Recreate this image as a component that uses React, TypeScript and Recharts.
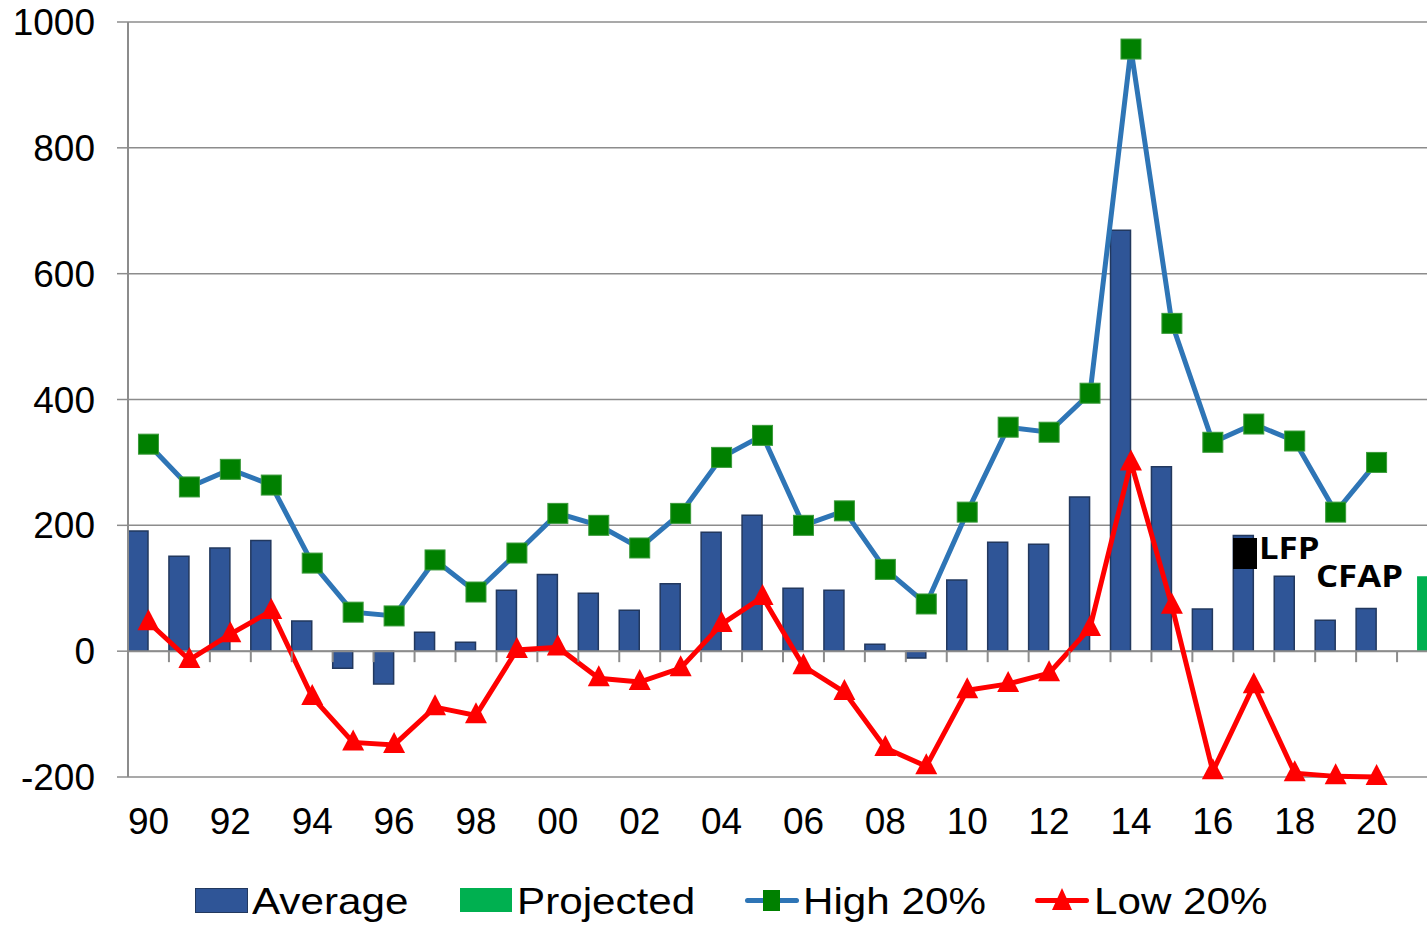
import React from "react";
import { ComposedChart, Bar, Line, XAxis, YAxis, CartesianGrid, ReferenceLine } from "recharts";

const years = [
  "90", "91", "92", "93", "94", "95", "96", "97", "98", "99",
  "00", "01", "02", "03", "04", "05", "06", "07", "08", "09",
  "10", "11", "12", "13", "14", "15", "16", "17", "18", "19", "20", "21",
];

const average = [
  191, 151, 164, 176, 48, -27, -52, 30, 14, 97,
  122, 92, 65, 107, 189, 216, 100, 97, 11, -11,
  113, 173, 170, 245, 669, 293, 67, 184, 119, 49, 68, null,
];

const projected = [
  null, null, null, null, null, null, null, null, null, null,
  null, null, null, null, null, null, null, null, null, null,
  null, null, null, null, null, null, null, null, null, null, null, 119,
];

const high20 = [
  329, 261, 289, 264, 140, 62, 56, 145, 94, 156,
  219, 200, 164, 219, 308, 343, 200, 223, 130, 75,
  221, 356, 348, 410, 957, 521, 332, 361, 334, 221, 300, null,
];

const low20 = [
  46, -14, 27, 64, -73, -145, -149, -89, -102, 2,
  6, -43, -49, -27, 43, 86, -24, -65, -154, -183,
  -62, -52, -35, 37, 300, 72, -191, -54, -194, -199, -200, null,
];

const yTicks = [-200, 0, 200, 400, 600, 800, 1000];

const data = years.map((year, i) => ({
  year,
  average: average[i],
  projected: projected[i],
  high: high20[i],
  low: low20[i],
}));

const W = 1438;
const H = 926;
const TOP = 22;
const PLOT_H = 755;
const Y_W = 128;
const BAND = (W - Y_W) / years.length;
const ZERO_OFF = (PLOT_H * 200) / 1200;
const FONT = "'Liberation Sans', Arial, sans-serif";
const GRAY = "#8c8c8c";

const XTick = (props: any) => {
  const { x, y, payload } = props;
  const v: string = payload.value;
  const show = v !== "21" && Number(v) % 2 === 0;
  return (
    <g>
      <line x1={x + BAND / 2} x2={x + BAND / 2} y1={y - ZERO_OFF} y2={y - ZERO_OFF + 11} stroke={GRAY} strokeWidth={2} />
      {show && (
        <text x={x} y={y + 57} textAnchor="middle" fontSize={37} fontFamily={FONT} fill="#000">
          {v}
        </text>
      )}
    </g>
  );
};

const SquareDot = (props: any) => {
  const { cx, cy, value } = props;
  if (value == null || cx == null) return null;
  return <rect x={cx - 10} y={cy - 10} width={20} height={20} fill="#008000" stroke="#3a9a3a" strokeWidth={1} />;
};

const TriDot = (props: any) => {
  const { cx, cy, value } = props;
  if (value == null || cx == null) return null;
  return <path d={`M${cx},${cy - 13} L${cx + 11},${cy + 8} L${cx - 11},${cy + 8} Z`} fill="#ff0000" />;
};

const legendText: React.CSSProperties = {
  position: "absolute",
  top: 883,
  fontSize: 37,
  fontFamily: FONT,
  lineHeight: "37px",
  transform: "scaleX(1.14)",
  transformOrigin: "left",
  whiteSpace: "nowrap",
};

export default function App() {
  return (
    <div style={{ position: "fixed", left: 0, top: 0, width: 1427, height: 926, overflow: "hidden", background: "#fff" }}>
      <ComposedChart
        width={W}
        height={H}
        data={data}
        margin={{ top: TOP, right: 0, left: 0, bottom: 0 }}
        barGap={0}
        barCategoryGap={0}
      >
        <CartesianGrid vertical={false} stroke={GRAY} strokeWidth={1.5} />
        <XAxis
          dataKey="year"
          interval={0}
          tickLine={false}
          axisLine={false}
          tickSize={0}
          tickMargin={0}
          height={H - TOP - PLOT_H}
          tick={<XTick />}
        />
        <YAxis
          width={Y_W}
          domain={[-200, 1000]}
          ticks={yTicks}
          interval={0}
          axisLine={{ stroke: GRAY, strokeWidth: 2 }}
          tickLine={{ stroke: GRAY, strokeWidth: 1.5 }}
          tickSize={11}
          tickMargin={22}
          tick={{ fontSize: 37, fontFamily: FONT, fill: "#000" }}
        />
        <ReferenceLine y={0} stroke={GRAY} strokeWidth={2} />
        <Bar dataKey="average" fill="#2F5597" stroke="#22385e" strokeWidth={1.5} isAnimationActive={false} />
        <Bar dataKey="projected" fill="#00B050" isAnimationActive={false} />
        <Line
          dataKey="high"
          stroke="#2E75B6"
          strokeWidth={5}
          dot={<SquareDot />}
          activeDot={false}
          isAnimationActive={false}
        />
        <Line
          dataKey="low"
          stroke="#ff0000"
          strokeWidth={5}
          dot={<TriDot />}
          activeDot={false}
          isAnimationActive={false}
        />
      </ComposedChart>

      {/* annotation */}
      <div style={{ position: "absolute", left: 1233, top: 538, width: 24, height: 31, background: "#000" }} />
      <div style={{ position: "absolute", left: 1259, top: 529, fontSize: 31, fontWeight: 700, fontFamily: "'Open Sans', sans-serif", transform: "scaleX(1.12)", transformOrigin: "left", lineHeight: "36px" }}>LFP</div>
      <div style={{ position: "absolute", left: 1316, top: 557, fontSize: 31, fontWeight: 700, fontFamily: "'Open Sans', sans-serif", transform: "scaleX(1.12)", transformOrigin: "left", lineHeight: "36px" }}>CFAP</div>

      {/* legend */}
      <div style={{ position: "absolute", left: 195, top: 888, width: 51, height: 23, background: "#2F5597", border: "1px solid #22385e" }} />
      <div style={{ ...legendText, left: 252 }}>Average</div>
      <div style={{ position: "absolute", left: 460, top: 888, width: 52, height: 24, background: "#00B050" }} />
      <div style={{ ...legendText, left: 517 }}>Projected</div>
      <div style={{ position: "absolute", left: 745, top: 898, width: 54, height: 5, background: "#2E75B6", borderRadius: 3 }} />
      <div style={{ position: "absolute", left: 763, top: 890, width: 17, height: 21, background: "#008000" }} />
      <div style={{ ...legendText, left: 803 }}>High 20%</div>
      <div style={{ position: "absolute", left: 1035, top: 898, width: 54, height: 5, background: "#ff0000", borderRadius: 3 }} />
      <svg style={{ position: "absolute", left: 1050, top: 886 }} width={24} height={26}>
        <path d="M12,2 L22,24 L2,24 Z" fill="#ff0000" />
      </svg>
      <div style={{ ...legendText, left: 1094 }}>Low 20%</div>
    </div>
  );
}
